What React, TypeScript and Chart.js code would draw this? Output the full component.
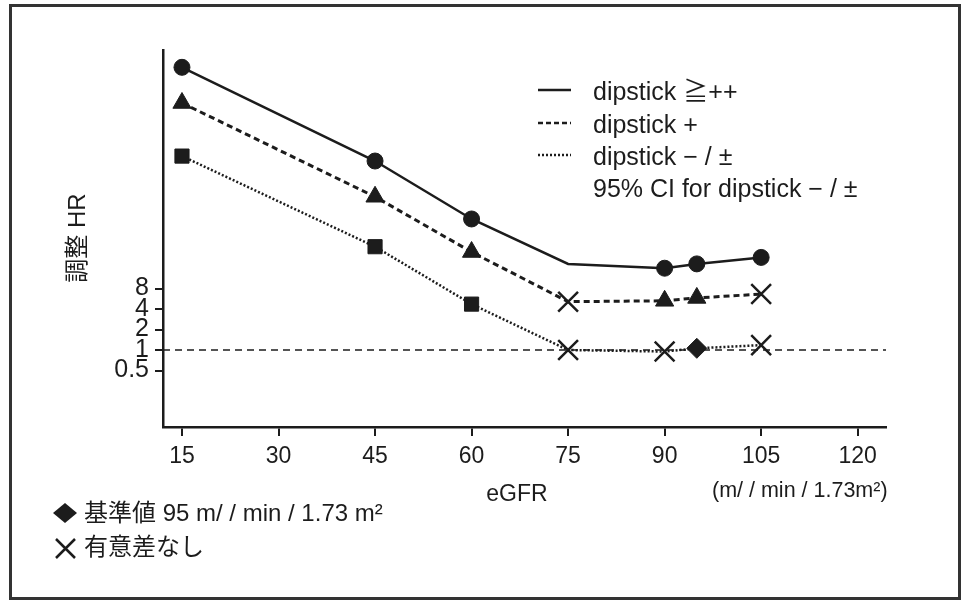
import React, { useEffect, useRef } from "react";
import { Chart, registerables } from "chart.js";
Chart.register(...registerables);

// eGFR categories (ml/min/1.73m²)
const eGFR = [15, 45, 60, 75, 90, 95, 105];
// adjusted HR
const hrDipstick2Plus = [14160, 596, 84, 18.4, 15.9, 18.4, 22.9];
const hrDipstick1Plus = [4240, 178, 27.5, 5.13, 5.28, 5.82, 6.63];
const hrDipstickNeg = [704, 32.9, 4.72, 1.0, 0.95, 1.06, 1.18];
// marker kind: s = significant, n = not significant, r = reference, - = no marker
const mark2Plus = ["s", "s", "s", "-", "s", "s", "s"];
const mark1Plus = ["s", "s", "s", "n", "s", "s", "n"];
const markNeg = ["s", "s", "s", "n", "n", "r", "n"];

const xTicks = [15, 30, 45, 60, 75, 90, 105, 120];
const yTicks = [0.5, 1, 2, 4, 8];
const refHR = 1;

const legendLabels = [
  "dipstick ≧++",
  "dipstick +",
  "dipstick − / ±",
  "95% CI for dipstick − / ±",
];
const yTitle = "調整 HR";
const xTitle = "eGFR";
const xUnit = "(m/ / min / 1.73m²)";
const noteRef = "基準値 95 m/ / min / 1.73 m²";
const noteNs = "有意差なし";

const X_MIN = 12.05;
const X_MAX = 124.4;
const Y_MIN = 0.0741;
const Y_MAX = 25431;

const FONT = '"Liberation Sans", "Noto Sans CJK JP", sans-serif';
const INK = "#1c1c1c";

function styleFor(kind: string, base: string) {
  if (kind === "n") return "crossRot";
  if (kind === "r") return "rectRot";
  return base;
}
function radiusFor(kind: string, baseR: number) {
  if (kind === "n") return 14;
  if (kind === "r") return 10;
  if (kind === "-") return 0;
  return baseR;
}

function makeSeries(vals: number[], marks: string[], base: string, baseR: number, dash: number[], width: number) {
  return {
    data: eGFR.map((x, i) => ({ x, y: vals[i] })),
    borderColor: INK,
    backgroundColor: INK,
    borderWidth: width,
    borderDash: dash,
    pointStyle: marks.map((m) => styleFor(m, base)),
    pointRadius: marks.map((m) => radiusFor(m, baseR)),
    pointBorderWidth: marks.map((m) => (m === "n" ? 2.5 : 1)),
    pointBackgroundColor: INK,
    pointBorderColor: INK,
    tension: 0,
    order: 1,
  };
}

const textPlugin = {
  id: "texts",
  afterDraw(chart: any) {
    const ctx = chart.ctx;
    ctx.save();
    ctx.fillStyle = INK;
    ctx.strokeStyle = INK;
    // legend
    const rows = [93, 126, 158, 190];
    const dashes = [[], [5, 3], [2, 2]];
    ctx.font = `25px ${FONT}`;
    ctx.textBaseline = "middle";
    ctx.textAlign = "left";
    legendLabels.forEach((t, i) => {
      ctx.fillText(t, 593, rows[i]);
      if (i < 3) {
        ctx.save();
        ctx.setLineDash(dashes[i]);
        ctx.lineWidth = 2.5;
        ctx.beginPath();
        ctx.moveTo(538, rows[i] - 3);
        ctx.lineTo(571, rows[i] - 3);
        ctx.stroke();
        ctx.restore();
      }
    });
    // y title
    ctx.save();
    ctx.translate(78, 238);
    ctx.rotate(-Math.PI / 2);
    ctx.textAlign = "center";
    ctx.font = `24px ${FONT}`;
    ctx.fillText(yTitle, 0, 0);
    ctx.restore();
    // x title & unit
    ctx.textAlign = "center";
    ctx.font = `23px ${FONT}`;
    ctx.fillText(xTitle, 517, 495);
    ctx.textAlign = "left";
    ctx.font = `21.5px ${FONT}`;
    ctx.fillText(xUnit, 712, 491);
    // notes
    ctx.beginPath();
    ctx.moveTo(65, 503);
    ctx.lineTo(77, 513);
    ctx.lineTo(65, 523);
    ctx.lineTo(53, 513);
    ctx.closePath();
    ctx.fill();
    ctx.lineWidth = 2.5;
    ctx.beginPath();
    ctx.moveTo(56, 539);
    ctx.lineTo(75, 558);
    ctx.moveTo(75, 539);
    ctx.lineTo(56, 558);
    ctx.stroke();
    ctx.font = `24px ${FONT}`;
    ctx.fillText(noteRef, 84, 514);
    ctx.fillText(noteNs, 84, 548);
    ctx.restore();
  },
};

export default function App() {
  const ref = useRef<HTMLCanvasElement | null>(null);
  useEffect(() => {
    if (!ref.current) return;
    const chart = new Chart(ref.current, {
      type: "line",
      data: {
        datasets: [
          makeSeries(hrDipstick2Plus, mark2Plus, "circle", 8, [], 2.5),
          makeSeries(hrDipstick1Plus, mark1Plus, "triangle", 10.5, [6, 4], 3),
          makeSeries(hrDipstickNeg, markNeg, "rect", 10, [2, 2], 2.5),
          {
            data: [
              { x: X_MIN, y: refHR },
              { x: X_MAX, y: refHR },
            ],
            borderColor: INK,
            borderWidth: 1.6,
            borderDash: [7, 5],
            pointRadius: 0,
            order: 10,
          },
        ] as any,
      },
      options: {
        animation: false,
        responsive: true,
        maintainAspectRatio: false,
        layout: { padding: { top: 50, right: 78, bottom: 0, left: 0 } },
        plugins: { legend: { display: false }, tooltip: { enabled: false }, title: { display: false } },
        scales: {
          x: {
            type: "linear",
            min: X_MIN,
            max: X_MAX,
            afterBuildTicks: (s: any) => {
              s.ticks = xTicks.map((v) => ({ value: v }));
            },
            afterFit: (s: any) => {
              s.height = 173;
            },
            ticks: {
              autoSkip: false,
              maxRotation: 0,
              padding: 7,
              color: INK,
              font: { family: FONT, size: 23 },
              callback: (v: any) => String(v),
            },
            grid: { drawOnChartArea: false, drawTicks: true, tickLength: 9, color: INK, lineWidth: 2 },
            border: { color: INK, width: 2.5 },
          },
          y: {
            type: "logarithmic",
            min: Y_MIN,
            max: Y_MAX,
            afterBuildTicks: (s: any) => {
              s.ticks = yTicks.map((v) => ({ value: v }));
            },
            afterFit: (s: any) => {
              s.width = 163;
            },
            ticks: {
              autoSkip: false,
              padding: 6,
              color: INK,
              font: { family: FONT, size: 25, lineHeight: 1 },
              callback: (v: any) => String(v),
            },
            grid: { drawOnChartArea: false, drawTicks: true, tickLength: 8, color: INK, lineWidth: 2 },
            border: { color: INK, width: 2.5 },
          },
        },
      } as any,
      plugins: [textPlugin],
    });
    return () => chart.destroy();
  }, []);
  return (
    <div style={{ position: "fixed", left: 0, top: 0, width: 964, height: 600, background: "#fff" }}>
      <canvas ref={ref} style={{ position: "absolute", left: 0, top: 0 }} />
      <div
        style={{
          position: "absolute",
          left: 9,
          top: 4,
          width: 952,
          height: 596,
          border: "3px solid #333",
          boxSizing: "border-box",
          pointerEvents: "none",
        }}
      />
    </div>
  );
}
